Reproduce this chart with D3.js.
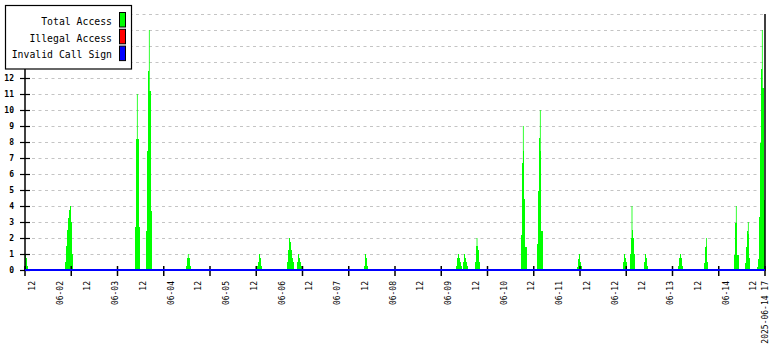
<!DOCTYPE html>
<html><head><meta charset="utf-8">
<script src="https://cdn.jsdelivr.net/npm/d3@7"></script>
<style>body{margin:0;background:#fff}svg{display:block}</style>
</head><body><svg id="c" width="780" height="350"></svg>
<script>
// ---------- data ----------
const seriesNames = ["Total Access", "Illegal Access", "Invalid Call Sign"];
const seriesColors = ["#00ff00", "#ff0000", "#0000ff"];
const timeStart = "2025-06-01 09:00";
const timeEnd = "2025-06-14 17:00";
const stepMinutes = 26;
// Total Access: bursts (start time, consecutive values per step)
const burstStarts = [
  "2025-06-01 09:10","2025-06-02 02:18","2025-06-03 08:34","2025-06-03 13:19",
  "2025-06-04 06:37","2025-06-05 13:19","2025-06-06 02:10","2025-06-06 06:45",
  "2025-06-07 11:44","2025-06-09 03:15","2025-06-09 06:32","2025-06-09 11:36",
  "2025-06-10 07:29","2025-06-10 14:25","2025-06-11 07:42","2025-06-12 03:43",
  "2025-06-12 06:37","2025-06-12 12:49","2025-06-13 03:31","2025-06-13 14:37",
  "2025-06-14 03:35","2025-06-14 08:21","2025-06-14 13:32"
];
const burstValues = [
  [1, 0.75, 0.25],
  [0.5, 1.5, 2.5, 3.25, 3.75, 4, 3, 1],
  [2.67, 8.2, 8.2, 8.2, 2.67],
  [2.44, 7.44, 12.44, 11.2, 11.2, 3.7],
  [0.25, 0.75, 0.75, 0.75, 0.25],
  [0.25, 0.5, 1, 0.75, 0.25],
  [0.5, 1.25, 2, 1.75, 1.25, 0.75, 0.5],
  [0.5, 1, 0.75, 0.5, 0.25],
  [0.25, 1, 0.75, 0.25],
  [0.25, 0.75, 1, 0.75, 0.5, 0.25],
  [0.5, 1, 0.75, 0.5, 0.25],
  [0.5, 1.5, 1.5, 1.25, 0.5],
  [2.2, 6.7, 7.44, 4.44, 1.44, 1.44],
  [1.6, 4.94, 8.25, 7.44, 2.44, 2.44],
  [0.2, 0.7, 1, 0.5, 0.25],
  [0.5, 1, 0.75, 0.5],
  [1, 2, 2.5, 2, 1],
  [0.5, 1, 0.75, 0.25],
  [0.25, 0.75, 1, 0.75, 0.25],
  [0.42, 1.46, 1.5, 0.5],
  [0.94, 2.96, 2.96, 0.94, 0.94],
  [0.42, 1.46, 2.44, 2.23, 0.77],
  [0.2, 0.7, 3.33, 7.92, 12.56, 11.4, 11.4, 4.4]
];
// Short peaks of Total Access
const peakTimes = [
  "2025-06-03 09:34","2025-06-03 14:45","2025-06-04 07:37","2025-06-09 12:28",
  "2025-06-10 08:29","2025-06-10 15:50","2025-06-12 07:29","2025-06-13 15:42",
  "2025-06-14 04:35","2025-06-14 09:47","2025-06-14 15:50"
];
const peakValues = [11, 15, 1, 2, 9, 10, 4, 2, 4, 3, 15];
// Illegal Access and Invalid Call Sign are zero throughout
const illegalValues = [0, 0];
const invalidValues = [0, 0];
// axes
const yTickValues = [0,1,2,3,4,5,6,7,8,9,10,11,12,13,14,15,16];
const yLabelValues = [0,1,2,3,4,5,6,7,8,9,10,11,12]; // 13-16 sit under the legend
const xTickTimes = d3.range(0, 17).map(k => k * 20); // hours from start
const xLabelTimes = [
  "2025-06-01 12:00","2025-06-02 00:00","2025-06-02 12:00","2025-06-03 00:00",
  "2025-06-03 12:00","2025-06-04 00:00","2025-06-04 12:00","2025-06-05 00:00",
  "2025-06-05 12:00","2025-06-06 00:00","2025-06-06 12:00","2025-06-07 00:00",
  "2025-06-07 12:00","2025-06-08 00:00","2025-06-08 12:00","2025-06-09 00:00",
  "2025-06-09 12:00","2025-06-10 00:00","2025-06-10 12:00","2025-06-11 00:00",
  "2025-06-11 12:00","2025-06-12 00:00","2025-06-12 12:00","2025-06-13 00:00",
  "2025-06-13 12:00","2025-06-14 00:00","2025-06-14 12:00","2025-06-14 17:00"
];
const xLabelTexts = [
  "12","06-02","12","06-03","12","06-04","12","06-05","12","06-06","12","06-07",
  "12","06-08","12","06-09","12","06-10","12","06-11","12","06-12","12","06-13",
  "12","06-14","12","2025-06-14 17"
];

// ---------- drawing ----------
const parse = d3.timeParse("%Y-%m-%d %H:%M");
const svg = d3.select("#c");
const L = 25, R = 765, T = 14, B = 270;
const t0 = parse(timeStart), t1 = parse(timeEnd);
const x = d3.scaleTime().domain([t0, t1]).range([L, R]);
const y = d3.scaleLinear().domain([0, 16]).range([B, T]);
const mono = "'DejaVu Sans Mono', 'Liberation Mono', monospace";

// grid
svg.append("g").selectAll("line").data(yTickValues.filter(v => v > 0)).join("line")
  .attr("x1", L + 7).attr("x2", R - 2)
  .attr("y1", d => Math.round(y(d)) + 0.5).attr("y2", d => Math.round(y(d)) + 0.5)
  .attr("stroke", "#c4c4c4").attr("stroke-width", 1).attr("stroke-dasharray", "3,3.5");

// bursts as step areas
const area = d3.area().curve(d3.curveStepAfter)
  .x(d => x(d.t)).y0(y(0)).y1(d => y(d.v));
burstStarts.forEach((s, i) => {
  const st = parse(s);
  const vals = burstValues[i];
  const pts = vals.map((v, j) => ({t: d3.timeMinute.offset(st, j * stepMinutes), v}));
  pts.push({t: d3.timeMinute.offset(st, vals.length * stepMinutes), v: vals[vals.length - 1]});
  svg.append("path").attr("d", area(pts)).attr("fill", seriesColors[0])
    .attr("shape-rendering", "crispEdges");
});
// peaks
svg.append("g").selectAll("rect").data(peakTimes.map((t, i) => ({t: parse(t), v: peakValues[i]})))
  .join("rect")
  .attr("x", d => x(d.t) - 0.4).attr("width", 0.8)
  .attr("y", d => y(d.v)).attr("height", d => y(0) - y(d.v))
  .attr("fill", seriesColors[0]);

// axes
const axisG = svg.append("g");
axisG.append("line").attr("x1", L).attr("x2", L).attr("y1", T).attr("y2", B + 1)
  .attr("stroke", "#000").attr("stroke-width", 1.5);
axisG.append("line").attr("x1", R).attr("x2", R).attr("y1", T).attr("y2", B + 1)
  .attr("stroke", "#000").attr("stroke-width", 1.5);
axisG.append("line").attr("x1", L).attr("x2", R).attr("y1", B).attr("y2", B)
  .attr("stroke", "#000").attr("stroke-width", 1.5);
// y ticks + labels
axisG.selectAll(".yt").data(yTickValues).join("line").attr("class", "yt")
  .attr("x1", L - 5).attr("x2", L + 5)
  .attr("y1", d => Math.round(y(d)) + 0.5).attr("y2", d => Math.round(y(d)) + 0.5)
  .attr("stroke", "#000").attr("stroke-width", 1.2);
axisG.selectAll(".yl").data(yLabelValues).join("text").attr("class", "yl")
  .attr("x", 14).attr("y", d => y(d)).attr("dy", "0.33em")
  .attr("text-anchor", "end").attr("font-family", mono).attr("font-size", 8)
  .attr("font-weight", "bold").text(d => d);

// zero lines for other series
const line = d3.line().x(d => d.x).y(d => y(d.v));
svg.append("path").attr("d", line([{x: L, v: illegalValues[0]}, {x: R, v: illegalValues[1]}]))
  .attr("stroke", seriesColors[1]).attr("stroke-width", 1.5).attr("fill", "none");
svg.append("path").attr("d", line([{x: L, v: invalidValues[0]}, {x: R, v: invalidValues[1]}]))
  .attr("stroke", seriesColors[2]).attr("stroke-width", 1.8).attr("fill", "none");

// x ticks
axisG.selectAll(".xt").data(xTickTimes).join("line").attr("class", "xt")
  .attr("x1", d => x(d3.timeHour.offset(t0, d))).attr("x2", d => x(d3.timeHour.offset(t0, d)))
  .attr("y1", B - 4).attr("y2", B + 6).attr("stroke", "#000").attr("stroke-width", 1.5);
// x labels
svg.append("g").selectAll("text").data(xLabelTimes.map((t, i) => ({t: parse(t), s: xLabelTexts[i]})))
  .join("text")
  .attr("transform", d => `translate(${x(d.t)},${B + 11}) rotate(-90)`)
  .attr("dy", "0.35em").attr("text-anchor", "end")
  .attr("font-family", mono).attr("font-size", 8).text(d => d.s);

// legend
const lg = svg.append("g");
lg.append("rect").attr("x", 5.5).attr("y", 5.5).attr("width", 126).attr("height", 63.5)
  .attr("fill", "#fff").attr("stroke", "#000").attr("stroke-width", 1.2);
seriesNames.forEach((n, i) => {
  lg.append("text").attr("x", 112).attr("y", 25 + i * 16.7).attr("text-anchor", "end")
    .attr("font-family", mono).attr("font-size", 11)
    .attr("textLength", n.length * 5.9).attr("lengthAdjust", "spacingAndGlyphs").text(n);
  lg.append("rect").attr("x", 119.5).attr("y", 12.5 + i * 16.8).attr("width", 6).attr("height", 14.5)
    .attr("fill", seriesColors[i]).attr("stroke", "#000").attr("stroke-width", 1);
});
</script></body></html>
